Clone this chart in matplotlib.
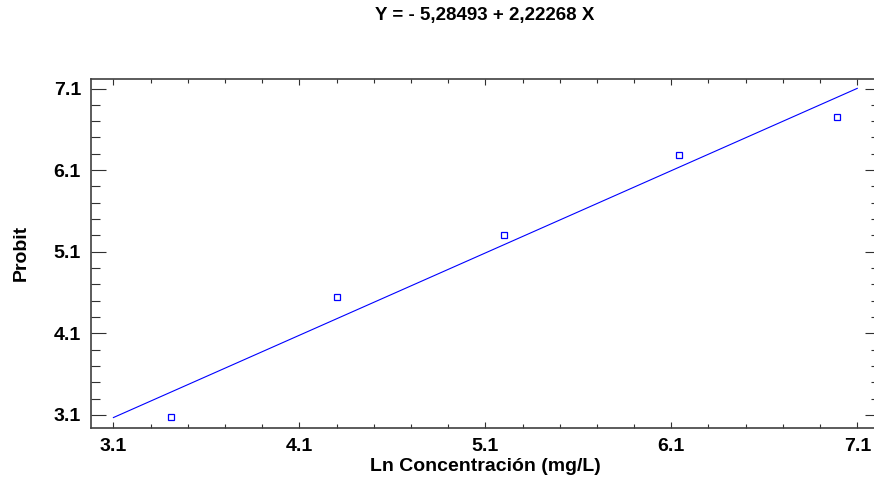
import numpy as np
import matplotlib
matplotlib.use("Agg")
import matplotlib.pyplot as plt
from matplotlib.ticker import FixedLocator

plt.rcParams['font.family'] = ['Liberation Sans', 'DejaVu Sans']

# data
ln_conc = [3.41, 4.30, 5.20, 6.14, 6.99]
probit = [3.08, 4.55, 5.31, 6.28, 6.75]
ticks = [3.1, 4.1, 5.1, 6.1, 7.1]
title = "Y = - 5,28493 + 2,22268 X"

slope, intercept = np.polyfit(ln_conc, probit, 1)
xfit = np.array([3.1, 7.1])

fig = plt.figure(figsize=(8.74, 4.86), dpi=100)
ax = fig.add_axes([0.1038, 0.1193, 0.903, 0.7187])

ax.plot(xfit, intercept + slope * xfit, color="#0000ff", lw=0.8)
ax.plot(ln_conc, probit, ls="none", marker="s", ms=4.2, mfc="none",
        mec="#0000ff", mew=0.9)

ax.set_xlim(2.978, 7.222)
ax.set_ylim(2.94, 7.22)
ax.xaxis.set_major_locator(FixedLocator(ticks))
ax.yaxis.set_major_locator(FixedLocator(ticks))
ax.xaxis.set_minor_locator(FixedLocator(np.arange(3.1, 7.2, 0.2)))
ax.yaxis.set_minor_locator(FixedLocator(np.arange(3.1, 7.2, 0.2)))
ax.set_xticklabels([str(t) for t in ticks])
ax.set_yticklabels([str(t) for t in ticks])

ax.tick_params(axis="both", which="both", direction="in", top=True, right=True,
               color="#303030", width=0.8, labelsize=14)
ax.tick_params(axis="x", which="major", length=4.5, pad=7)
ax.tick_params(axis="x", which="minor", length=3)
ax.tick_params(axis="y", which="major", length=11, pad=7)
ax.tick_params(axis="y", which="minor", length=6.2)
for lab in ax.get_xticklabels() + ax.get_yticklabels():
    lab.set_fontweight("bold")

for s in ax.spines.values():
    s.set_color("#404040")
    s.set_linewidth(1.2)

ax.set_xlabel("Ln Concentración (mg/L)", fontsize=14, fontweight="bold", labelpad=2)
ax.set_ylabel("Probit", fontsize=14, fontweight="bold", labelpad=17)
fig.text(0.555, 0.968, title, ha="center", va="center", fontsize=13.5, fontweight="bold")

fig.savefig("out.png", dpi=100)
